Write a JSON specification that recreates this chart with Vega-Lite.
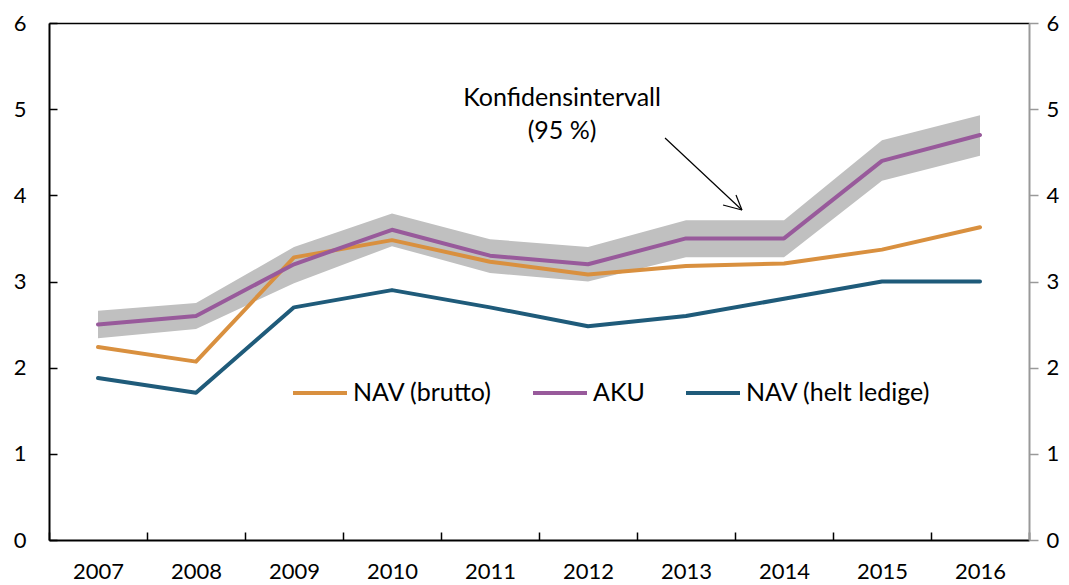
{
  "$schema": "https://vega.github.io/schema/vega-lite/v6.json",
  "width": 980,
  "height": 517,
  "autosize": {"type": "none"},
  "padding": {"left": 49, "top": 23, "right": 40, "bottom": 45},
  "background": "white",
  "config": {
    "view": {"stroke": null},
    "font": "Lato",
    "axis": {"labelFont": "Lato", "labelFontSize": 22, "labelColor": "#000", "grid": false, "title": null}
  },
  "datasets": {
    "series": [
      {"year": "2007", "series": "NAV (brutto)", "value": 2.24},
      {"year": "2008", "series": "NAV (brutto)", "value": 2.07},
      {"year": "2009", "series": "NAV (brutto)", "value": 3.28},
      {"year": "2010", "series": "NAV (brutto)", "value": 3.48},
      {"year": "2011", "series": "NAV (brutto)", "value": 3.23},
      {"year": "2012", "series": "NAV (brutto)", "value": 3.08},
      {"year": "2013", "series": "NAV (brutto)", "value": 3.18},
      {"year": "2014", "series": "NAV (brutto)", "value": 3.21},
      {"year": "2015", "series": "NAV (brutto)", "value": 3.37},
      {"year": "2016", "series": "NAV (brutto)", "value": 3.63},
      {"year": "2007", "series": "AKU", "value": 2.5},
      {"year": "2008", "series": "AKU", "value": 2.6},
      {"year": "2009", "series": "AKU", "value": 3.2},
      {"year": "2010", "series": "AKU", "value": 3.6},
      {"year": "2011", "series": "AKU", "value": 3.3},
      {"year": "2012", "series": "AKU", "value": 3.2},
      {"year": "2013", "series": "AKU", "value": 3.5},
      {"year": "2014", "series": "AKU", "value": 3.5},
      {"year": "2015", "series": "AKU", "value": 4.4},
      {"year": "2016", "series": "AKU", "value": 4.7},
      {"year": "2007", "series": "NAV (helt ledige)", "value": 1.88},
      {"year": "2008", "series": "NAV (helt ledige)", "value": 1.71},
      {"year": "2009", "series": "NAV (helt ledige)", "value": 2.7},
      {"year": "2010", "series": "NAV (helt ledige)", "value": 2.9},
      {"year": "2011", "series": "NAV (helt ledige)", "value": 2.7},
      {"year": "2012", "series": "NAV (helt ledige)", "value": 2.48},
      {"year": "2013", "series": "NAV (helt ledige)", "value": 2.6},
      {"year": "2014", "series": "NAV (helt ledige)", "value": 2.8},
      {"year": "2015", "series": "NAV (helt ledige)", "value": 3.0},
      {"year": "2016", "series": "NAV (helt ledige)", "value": 3.0}
    ],
    "ci": [
      {"year": "2007", "lo": 2.34, "hi": 2.66},
      {"year": "2008", "lo": 2.45, "hi": 2.75},
      {"year": "2009", "lo": 2.98, "hi": 3.4},
      {"year": "2010", "lo": 3.41, "hi": 3.79},
      {"year": "2011", "lo": 3.1, "hi": 3.49},
      {"year": "2012", "lo": 3.0, "hi": 3.4},
      {"year": "2013", "lo": 3.28, "hi": 3.71},
      {"year": "2014", "lo": 3.28, "hi": 3.71},
      {"year": "2015", "lo": 4.17, "hi": 4.64},
      {"year": "2016", "lo": 4.46, "hi": 4.93}
    ],
    "notes": [
      {"x": 2011.735, "y": 5.13, "label": "Konfidensintervall"},
      {"x": 2011.735, "y": 4.75, "label": "(95 %)"}
    ],
    "arrow": [
      {"x": 2012.786, "y": 4.665, "x2": 2013.571, "y2": 3.83},
      {"x": 2013.378, "y": 3.888, "x2": 2013.571, "y2": 3.83},
      {"x": 2013.51, "y": 4.004, "x2": 2013.571, "y2": 3.83}
    ]
  },
  "layer": [
    {
      "data": {"name": "ci"},
      "mark": {"type": "area", "color": "#C0C0C0", "opacity": 1},
      "encoding": {
        "x": {"field": "year", "type": "ordinal", "bandPosition": 0.5,
              "scale": {"type": "band", "paddingInner": 0, "paddingOuter": 0},
              "axis": {"orient": "bottom", "tickBand": "extent", "labelAngle": 0, "domainColor": "#000", "domainWidth": 2, "tickColor": "#000", "tickWidth": 1.5, "tickSize": -8, "labelPadding": 29}},
        "y": {"field": "hi", "type": "quantitative", "scale": {"domain": [0, 6], "nice": false, "zero": true},
              "axis": {"orient": "left", "values": [0, 1, 2, 3, 4, 5, 6], "domainColor": "#000", "domainWidth": 2, "tickColor": "#000", "tickWidth": 1.5, "tickSize": -8, "labelPadding": 31, "labelBaseline": "middle"}},
        "y2": {"field": "lo"}
      }
    },
    {
      "data": {"name": "series"},
      "mark": {"type": "line", "strokeWidth": 4, "strokeCap": "round", "strokeJoin": "round"},
      "encoding": {
        "x": {"field": "year", "type": "ordinal", "bandPosition": 0.5,
              "scale": {"type": "band", "paddingInner": 0, "paddingOuter": 0}, "axis": null},
        "y": {"field": "value", "type": "quantitative", "scale": {"domain": [0, 6], "nice": false, "zero": true},
              "axis": {"orient": "right", "values": [0, 1, 2, 3, 4, 5, 6], "domainColor": "#999", "domainWidth": 2, "tickColor": "#999", "tickWidth": 1.5, "tickSize": 9, "labelPadding": 8}},
        "color": {"field": "series", "type": "nominal",
                  "scale": {"domain": ["NAV (brutto)", "AKU", "NAV (helt ledige)"], "range": ["#D9903F", "#985A9B", "#1F5B7A"]},
                  "legend": {"orient": "none", "legendX": 242, "legendY": 341, "direction": "horizontal", "title": null,
                             "symbolType": "stroke", "symbolSize": 2916, "symbolStrokeWidth": 4,
                             "labelFont": "Lato", "labelFontSize": 25, "labelColor": "#000", "labelOffset": 4,
                             "columnPadding": 33, "padding": 0, "labelLimit": 400}}
      }
    },
    {
      "data": {"name": "notes"},
      "mark": {"type": "text", "font": "Lato", "fontSize": 25, "color": "#000", "align": "center", "baseline": "middle"},
      "encoding": {
        "x": {"field": "x", "type": "quantitative", "scale": {"domain": [2006.5, 2016.5], "nice": false, "zero": false},
              "axis": {"orient": "top", "labels": false, "ticks": false, "domainColor": "#000", "domainWidth": 1.5}},
        "y": {"field": "y", "type": "quantitative", "scale": {"domain": [0, 6], "nice": false}, "axis": null},
        "text": {"field": "label"}
      }
    },
    {
      "data": {"name": "arrow"},
      "mark": {"type": "rule", "color": "#000", "strokeWidth": 1.2},
      "encoding": {
        "x": {"field": "x", "type": "quantitative", "scale": {"domain": [2006.5, 2016.5], "nice": false, "zero": false}, "axis": null},
        "x2": {"field": "x2"},
        "y": {"field": "y", "type": "quantitative", "scale": {"domain": [0, 6], "nice": false}, "axis": null},
        "y2": {"field": "y2"}
      }
    }
  ],
  "resolve": {"scale": {"x": "independent", "y": "independent"}, "axis": {"x": "independent", "y": "independent"}}
}
